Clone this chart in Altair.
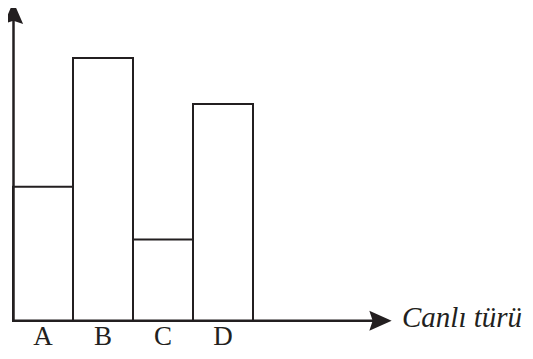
import altair as alt
import pandas as pd

categories = ["A", "B", "C", "D"]
positions = [0, 1, 2, 3]
values = [5.1, 10.0, 3.1, 8.25]
x_title = "Canlı türü"

ink = "#231f20"

df = pd.DataFrame({
    "cat": categories,
    "x0": positions,
    "x1": [p + 1 for p in positions],
    "xm": [p + 0.5 for p in positions],
    "v": values,
})

xs = alt.Scale(domain=[-5 / 60, 512 / 60], nice=False, zero=False)
ys = alt.Scale(domain=[-30 / 26.3, 313 / 26.3], nice=False, zero=False)

one = alt.Data(values=[{"k": 1}])

bars = alt.Chart(df).mark_rect(fill="white", stroke=ink, strokeWidth=2).encode(
    x=alt.X("x0:Q", scale=xs, axis=None),
    x2="x1:Q",
    y=alt.Y("v:Q", scale=ys, axis=None),
    y2=alt.datum(0),
)

labels = alt.Chart(df).mark_text(
    font="Liberation Serif", fontSize=27, color=ink, baseline="bottom", align="center"
).encode(
    x=alt.X("xm:Q", scale=xs),
    y=alt.value(343),
    text="cat:N",
)

yaxis = alt.Chart(one).mark_rule(color=ink, strokeWidth=2.5).encode(
    x=alt.value(5.5), y=alt.value(12), y2=alt.value(314)
)
xaxis = alt.Chart(one).mark_rule(color=ink, strokeWidth=2.5).encode(
    x=alt.value(4.5), x2=alt.value(366), y=alt.value(312.7)
)

yarrow = alt.Chart(one).mark_point(
    shape="M0,-1L0.87,1L0,0.7L-0.87,1Z", filled=True, size=500, color=ink, opacity=1, strokeWidth=0
).encode(x=alt.value(5.4), y=alt.value(4.9))

xarrow = alt.Chart(one).mark_point(
    shape="M1,0L-1,0.9L-0.7,0L-1,-0.9Z", filled=True, size=500, color=ink, opacity=1, strokeWidth=0
).encode(x=alt.value(372.5), y=alt.value(312.7))

title = alt.Chart(one).mark_text(
    text=x_title, font="Liberation Serif", fontStyle="italic", fontSize=29,
    color=ink, align="left", baseline="alphabetic"
).encode(x=alt.value(394), y=alt.value(318.7))

chart = alt.layer(bars, yaxis, xaxis, yarrow, xarrow, labels, title).properties(
    width=517, height=343, autosize=alt.AutoSizeParams(type="none"), padding=0
).configure_view(stroke=None)

chart.save("out.html", embed_options={"renderer": "svg", "actions": False})
